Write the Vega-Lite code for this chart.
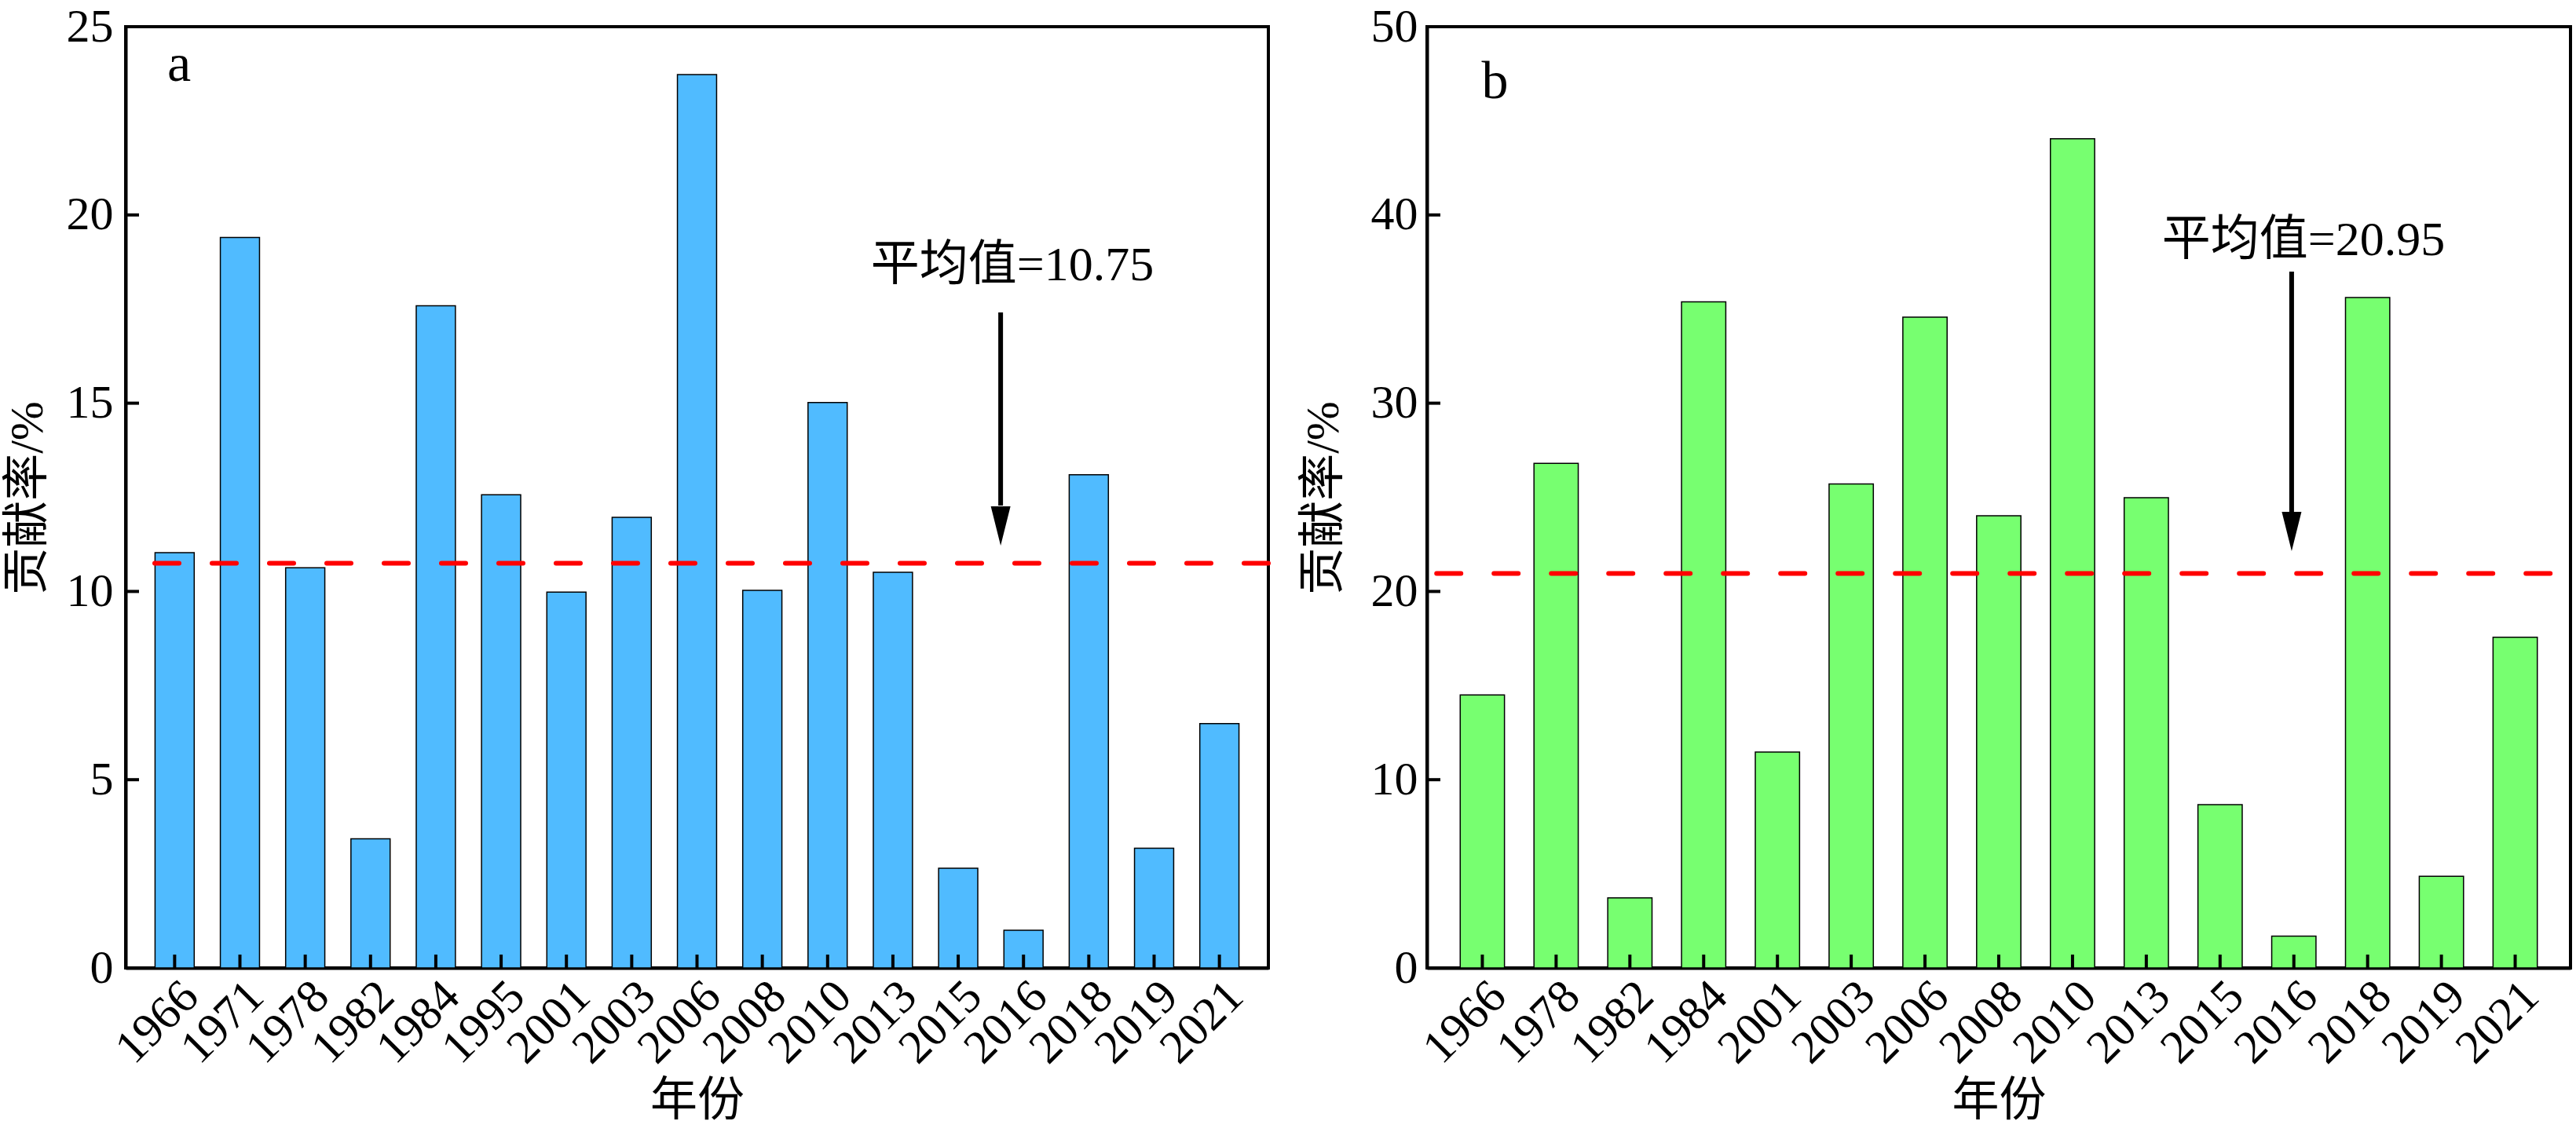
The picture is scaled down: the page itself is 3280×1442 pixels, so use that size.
{
  "$schema": "https://vega.github.io/schema/vega-lite/v6.json",
  "background": "white",
  "padding": {"left": 3, "top": 2, "right": 0, "bottom": 0},
  "config": {
    "font": "Liberation Serif, Noto Sans CJK SC",
    "view": {"stroke": "black", "strokeWidth": 4},
    "axis": {
      "labelFont": "Liberation Serif, Noto Sans CJK SC",
      "titleFont": "Liberation Serif, Noto Sans CJK SC",
      "labelFontSize": 60,
      "titleFontSize": 60,
      "titleFontWeight": "normal",
      "labelColor": "black",
      "titleColor": "black",
      "domainColor": "black",
      "domainWidth": 4,
      "ticks": false,
      "grid": false,
      "zindex": 1
    },
    "concat": {"spacing": 33}
  },
  "datasets": {
    "a": [
      {"year": "1966", "value": 11.03},
      {"year": "1971", "value": 19.40},
      {"year": "1978", "value": 10.63},
      {"year": "1982", "value": 3.43},
      {"year": "1984", "value": 17.59},
      {"year": "1995", "value": 12.57},
      {"year": "2001", "value": 9.98},
      {"year": "2003", "value": 11.97},
      {"year": "2006", "value": 23.73},
      {"year": "2008", "value": 10.03},
      {"year": "2010", "value": 15.02},
      {"year": "2013", "value": 10.51},
      {"year": "2015", "value": 2.65},
      {"year": "2016", "value": 1.0},
      {"year": "2018", "value": 13.10},
      {"year": "2019", "value": 3.18},
      {"year": "2021", "value": 6.49}
    ],
    "b": [
      {"year": "1966", "value": 14.5},
      {"year": "1978", "value": 26.8},
      {"year": "1982", "value": 3.72},
      {"year": "1984", "value": 35.38},
      {"year": "2001", "value": 11.47},
      {"year": "2003", "value": 25.71},
      {"year": "2006", "value": 34.57},
      {"year": "2008", "value": 24.02},
      {"year": "2010", "value": 44.05},
      {"year": "2013", "value": 24.98},
      {"year": "2015", "value": 8.67},
      {"year": "2016", "value": 1.69},
      {"year": "2018", "value": 35.61},
      {"year": "2019", "value": 4.87},
      {"year": "2021", "value": 17.57}
    ],
    "aTicks": [{"v": 5}, {"v": 10}, {"v": 15}, {"v": 20}],
    "bTicks": [{"v": 10}, {"v": 20}, {"v": 30}, {"v": 40}],
    "aMean": [{"x": -0.305, "x2": 16.75, "y": 10.75}],
    "bMean": [{"x": -0.62, "x2": 14.75, "y": 20.95}],
    "aArrow": [{"x": 12.65, "y": 17.41, "y2": 12.28, "tip": 11.22}],
    "bArrow": [{"x": 10.97, "y": 36.99, "y2": 24.19, "tip": 22.14}],
    "aText": [{"x": 12.83, "y": 18.27, "label": "平均值=10.75"}],
    "bText": [{"x": 11.13, "y": 37.86, "label": "平均值=20.95"}],
    "aLetter": [{"x": 0.07, "y": 23.56, "label": "a"}],
    "bLetter": [{"x": 0.17, "y": 46.2, "label": "b"}]
  },
  "hconcat": [
    {
      "width": 1455,
      "height": 1199,
      "resolve": {"scale": {"x": "independent"}},
      "layer": [
        {
          "data": {"name": "a"},
          "mark": {"type": "bar", "fill": "#50BBFF", "stroke": "black", "strokeWidth": 1.5},
          "encoding": {
            "x": {"field": "year", "type": "nominal", "sort": null,
              "scale": {"paddingInner": 0.4, "paddingOuter": 0.45},
              "axis": {"title": "年份", "labelAngle": -45, "labelAlign": "right", "labelBaseline": "top", "labelPadding": 6, "titleY": 169, "titleBaseline": "middle"}},
            "y": {"field": "value", "type": "quantitative", "scale": {"domain": [0, 25], "nice": false},
              "axis": {"title": "贡献率/%", "values": [0, 5, 10, 15, 20, 25], "labelPadding": 16, "titleX": -125, "titleY": 600, "titleBaseline": "middle"}}
          }
        },
        {
          "data": {"name": "a"},
          "mark": {"type": "rule", "color": "black", "strokeWidth": 4},
          "encoding": {
            "x": {"field": "year", "type": "nominal", "sort": null, "scale": {"paddingInner": 0.4, "paddingOuter": 0.45}, "axis": null},
            "y": {"datum": 0, "type": "quantitative"},
            "y2": {"datum": 0.355}
          }
        },
        {
          "data": {"name": "aTicks"},
          "mark": {"type": "rule", "color": "black", "strokeWidth": 4},
          "encoding": {
            "x": {"datum": -0.75, "type": "quantitative", "scale": {"domain": [-0.75, 16.75], "nice": false, "zero": false}, "axis": null},
            "x2": {"datum": -0.5455},
            "y": {"field": "v", "type": "quantitative", "title": "贡献率/%"}
          }
        },
        {
          "data": {"name": "aMean"},
          "mark": {"type": "rule", "color": "#FF0000", "strokeWidth": 6, "strokeDash": [31, 42], "strokeCap": "round"},
          "encoding": {
            "x": {"field": "x", "type": "quantitative", "scale": {"domain": [-0.75, 16.75], "nice": false, "zero": false}, "axis": null},
            "x2": {"field": "x2"},
            "y": {"field": "y", "type": "quantitative", "title": "贡献率/%"}
          }
        },
        {
          "data": {"name": "aArrow"},
          "mark": {"type": "rule", "color": "black", "strokeWidth": 6},
          "encoding": {
            "x": {"field": "x", "type": "quantitative", "scale": {"domain": [-0.75, 16.75], "nice": false, "zero": false}, "axis": null},
            "y": {"field": "y", "type": "quantitative", "title": "贡献率/%"},
            "y2": {"field": "y2"}
          }
        },
        {
          "data": {"name": "aArrow"},
          "mark": {"type": "point", "shape": "M-0.5,-2L0.5,-2L0,0Z", "size": 2500, "filled": true, "color": "black", "opacity": 1, "strokeWidth": 0},
          "encoding": {
            "x": {"field": "x", "type": "quantitative", "scale": {"domain": [-0.75, 16.75], "nice": false, "zero": false}, "axis": null},
            "y": {"field": "tip", "type": "quantitative", "title": "贡献率/%"}
          }
        },
        {
          "data": {"name": "aText"},
          "mark": {"type": "text", "fontSize": 62, "align": "center", "baseline": "alphabetic", "color": "black", "font": "Liberation Serif, Noto Sans CJK SC"},
          "encoding": {
            "x": {"field": "x", "type": "quantitative", "scale": {"domain": [-0.75, 16.75], "nice": false, "zero": false}, "axis": null},
            "y": {"field": "y", "type": "quantitative", "title": "贡献率/%"},
            "text": {"field": "label"}
          }
        },
        {
          "data": {"name": "aLetter"},
          "mark": {"type": "text", "fontSize": 68, "align": "center", "baseline": "alphabetic", "color": "black", "font": "Liberation Serif"},
          "encoding": {
            "x": {"field": "x", "type": "quantitative", "scale": {"domain": [-0.75, 16.75], "nice": false, "zero": false}, "axis": null},
            "y": {"field": "y", "type": "quantitative", "title": "贡献率/%"},
            "text": {"field": "label"}
          }
        }
      ]
    },
    {
      "width": 1456,
      "height": 1199,
      "resolve": {"scale": {"x": "independent"}},
      "layer": [
        {
          "data": {"name": "b"},
          "mark": {"type": "bar", "fill": "#77FF70", "stroke": "black", "strokeWidth": 1.5},
          "encoding": {
            "x": {"field": "year", "type": "nominal", "sort": null,
              "scale": {"paddingInner": 0.4, "paddingOuter": 0.45},
              "axis": {"title": "年份", "labelAngle": -45, "labelAlign": "right", "labelBaseline": "top", "labelPadding": 6, "titleY": 169, "titleBaseline": "middle"}},
            "y": {"field": "value", "type": "quantitative", "scale": {"domain": [0, 50], "nice": false},
              "axis": {"title": "贡献率/%", "values": [0, 10, 20, 30, 40, 50], "labelPadding": 12, "titleX": -132, "titleY": 600, "titleBaseline": "middle"}}
          }
        },
        {
          "data": {"name": "b"},
          "mark": {"type": "rule", "color": "black", "strokeWidth": 4},
          "encoding": {
            "x": {"field": "year", "type": "nominal", "sort": null, "scale": {"paddingInner": 0.4, "paddingOuter": 0.45}, "axis": null},
            "y": {"datum": 0, "type": "quantitative"},
            "y2": {"datum": 0.709}
          }
        },
        {
          "data": {"name": "bTicks"},
          "mark": {"type": "rule", "color": "black", "strokeWidth": 4},
          "encoding": {
            "x": {"datum": -0.75, "type": "quantitative", "scale": {"domain": [-0.75, 14.75], "nice": false, "zero": false}, "axis": null},
            "x2": {"datum": -0.569},
            "y": {"field": "v", "type": "quantitative", "title": "贡献率/%"}
          }
        },
        {
          "data": {"name": "bMean"},
          "mark": {"type": "rule", "color": "#FF0000", "strokeWidth": 6, "strokeDash": [31, 42], "strokeCap": "round"},
          "encoding": {
            "x": {"field": "x", "type": "quantitative", "scale": {"domain": [-0.75, 14.75], "nice": false, "zero": false}, "axis": null},
            "x2": {"field": "x2"},
            "y": {"field": "y", "type": "quantitative", "title": "贡献率/%"}
          }
        },
        {
          "data": {"name": "bArrow"},
          "mark": {"type": "rule", "color": "black", "strokeWidth": 6},
          "encoding": {
            "x": {"field": "x", "type": "quantitative", "scale": {"domain": [-0.75, 14.75], "nice": false, "zero": false}, "axis": null},
            "y": {"field": "y", "type": "quantitative", "title": "贡献率/%"},
            "y2": {"field": "y2"}
          }
        },
        {
          "data": {"name": "bArrow"},
          "mark": {"type": "point", "shape": "M-0.5,-2L0.5,-2L0,0Z", "size": 2500, "filled": true, "color": "black", "opacity": 1, "strokeWidth": 0},
          "encoding": {
            "x": {"field": "x", "type": "quantitative", "scale": {"domain": [-0.75, 14.75], "nice": false, "zero": false}, "axis": null},
            "y": {"field": "tip", "type": "quantitative", "title": "贡献率/%"}
          }
        },
        {
          "data": {"name": "bText"},
          "mark": {"type": "text", "fontSize": 62, "align": "center", "baseline": "alphabetic", "color": "black", "font": "Liberation Serif, Noto Sans CJK SC"},
          "encoding": {
            "x": {"field": "x", "type": "quantitative", "scale": {"domain": [-0.75, 14.75], "nice": false, "zero": false}, "axis": null},
            "y": {"field": "y", "type": "quantitative", "title": "贡献率/%"},
            "text": {"field": "label"}
          }
        },
        {
          "data": {"name": "bLetter"},
          "mark": {"type": "text", "fontSize": 68, "align": "center", "baseline": "alphabetic", "color": "black", "font": "Liberation Serif"},
          "encoding": {
            "x": {"field": "x", "type": "quantitative", "scale": {"domain": [-0.75, 14.75], "nice": false, "zero": false}, "axis": null},
            "y": {"field": "y", "type": "quantitative", "title": "贡献率/%"},
            "text": {"field": "label"}
          }
        }
      ]
    }
  ]
}
